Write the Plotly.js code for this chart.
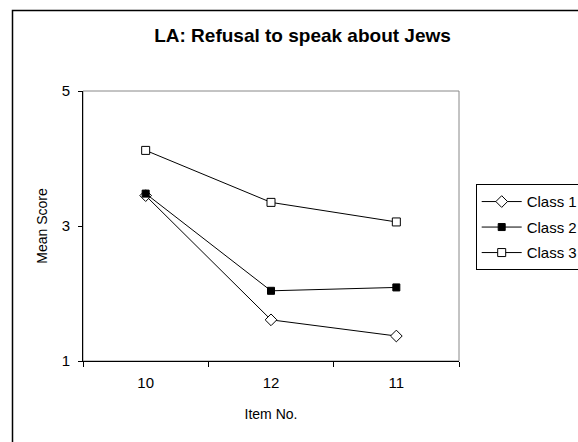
<!DOCTYPE html>
<html>
<head>
<meta charset="utf-8">
<script src="https://cdn.plot.ly/plotly-3.0.1.min.js"></script>
<style>
html,body{margin:0;padding:0;background:#fff;}
#chart{width:578px;height:442px;}
</style>
</head>
<body>
<div id="chart"></div>
<script>
const categories = ['10', '12', '11'];
const class1 = [3.45, 1.61, 1.37];
const class2 = [3.48, 2.04, 2.09];
const class3 = [4.12, 3.35, 3.06];
const seriesNames = ['Class 1', 'Class 2', 'Class 3'];
const yTicks = [1, 3, 5];

const FONT = 'Liberation Sans, Arial, sans-serif';

const traces = [
  {
    x: categories, y: class1, name: seriesNames[0], type: 'scatter', mode: 'lines+markers',
    legendgroup: 'g1',
    line: {color: '#000', width: 1},
    marker: {symbol: 'diamond', size: 9, color: '#fff', line: {color: '#000', width: 1}}
  },
  {
    x: categories, y: class2, name: seriesNames[1], type: 'scatter', mode: 'lines+markers',
    legendgroup: 'g2',
    line: {color: '#000', width: 1},
    marker: {symbol: 'square', size: 7, color: '#000', line: {color: '#000', width: 1}}
  },
  {
    x: categories, y: class3, name: seriesNames[2], type: 'scatter', mode: 'lines+markers',
    legendgroup: 'g3',
    line: {color: '#000', width: 1},
    marker: {symbol: 'square', size: 8, color: '#fff', line: {color: '#000', width: 1}}
  }
];

const L = 83, R = 119, T = 91, B = 81;
const PW = 578 - L - R, PH = 442 - T - B;
const px = v => (v - L) / PW;
const py = v => (442 - B - v) / PH;

const layout = {
  width: 578, height: 442,
  margin: {l: L, r: R, t: T, b: B, autoexpand: false},
  paper_bgcolor: 'rgba(0,0,0,0)',
  plot_bgcolor: '#fff',
  font: {family: FONT, color: '#000', size: 15},
  title: {
    text: '<b>LA: Refusal to speak about Jews</b>',
    font: {family: FONT, size: 19, color: '#000'},
    xref: 'container', yref: 'container',
    x: 302.5 / 578, y: 1 - 35 / 442, xanchor: 'center', yanchor: 'middle'
  },
  xaxis: {
    type: 'category',
    range: [-0.5, 2.5],
    showline: true, linecolor: '#000', linewidth: 1,
    showgrid: false, zeroline: false,
    ticks: 'outside', tickson: 'boundaries', ticklen: 5, tickcolor: '#000', tickwidth: 1,
    tickfont: {family: FONT, size: 15, color: '#000'},
    ticklabelstandoff: 8,
    automargin: false,
    title: {text: 'Item No.', font: {family: FONT, size: 14, color: '#000'}, standoff: 19}
  },
  yaxis: {
    range: [1, 5],
    tickvals: yTicks,
    ticktext: yTicks.map(String),
    showline: true, linecolor: '#000', linewidth: 1,
    showgrid: false, zeroline: false,
    ticks: 'outside', ticklen: 4, tickcolor: '#000', tickwidth: 1,
    tickfont: {family: FONT, size: 15, color: '#000'},
    ticklabelstandoff: 5,
    automargin: false,
    title: {text: 'Mean Score', font: {family: FONT, size: 14, color: '#000'}, standoff: 10}
  },
  showlegend: true,
  legend: {
    x: px(475.7), y: py(184.3), xanchor: 'left', yanchor: 'top',
    xref: 'paper', yref: 'paper',
    bgcolor: '#fff', bordercolor: '#000', borderwidth: 1,
    font: {family: FONT, size: 15, color: '#000'},
    tracegroupgap: 3,
    itemwidth: 40
  },
  shapes: [
    {type: 'rect', xref: 'paper', yref: 'paper', x0: 0, x1: 1, y0: 0, y1: 1,
     line: {color: '#888', width: 1}, layer: 'below'},
    {type: 'path', xref: 'paper', yref: 'paper',
     path: 'M ' + px(12.5) + ' ' + py(460) + ' L ' + px(12.5) + ' ' + py(10.5) + ' L ' + px(600) + ' ' + py(10.5),
     line: {color: '#000', width: 1.5}, layer: 'above'}
  ]
};

Plotly.newPlot('chart', traces, layout, {displayModeBar: false, staticPlot: true});
</script>
</body>
</html>
